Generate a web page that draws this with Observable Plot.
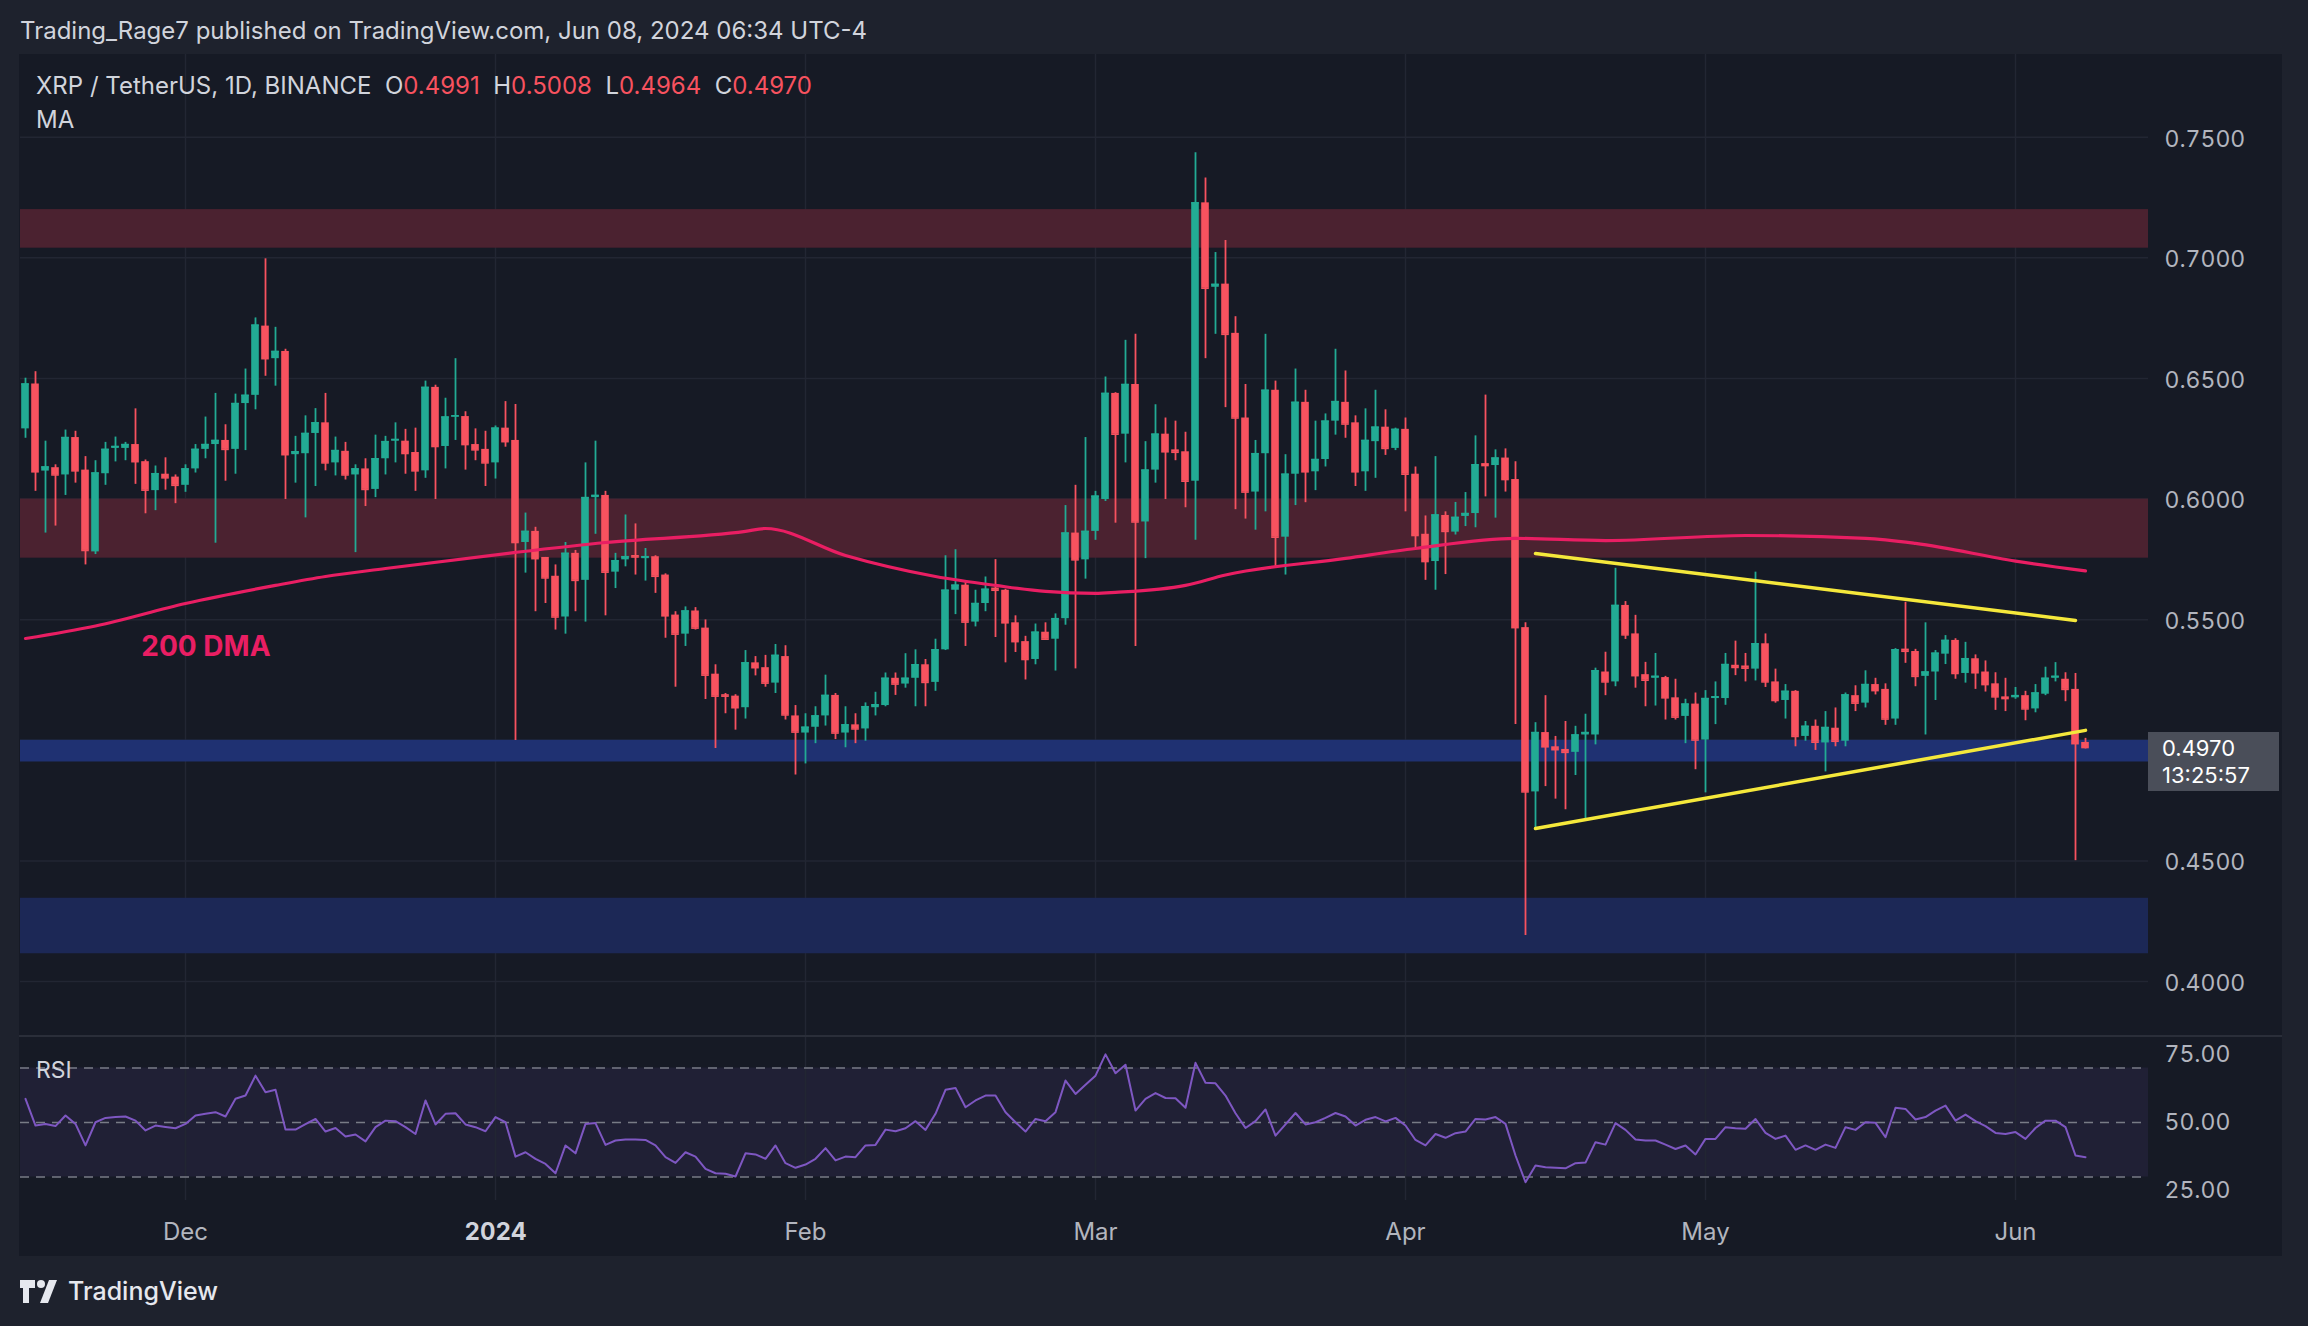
<!DOCTYPE html>
<html><head><meta charset="utf-8">
<script src="https://cdn.jsdelivr.net/npm/d3@7"></script>
<script src="https://cdn.jsdelivr.net/npm/@observablehq/plot@0.6"></script>
<style>
html,body{margin:0;padding:0;background:#1e222d;width:2308px;height:1326px;overflow:hidden;font-family:Inter,"Noto Sans",sans-serif;}
.abs{position:absolute;}
#header{left:20px;top:16px;font-size:24px;color:#d1d4dc;white-space:nowrap;}
#panel{left:19px;top:54px;width:2263px;height:1202px;background:#161a25;}
#sep{left:19px;top:1035px;width:2263px;height:2px;background:#2a2e39;}
#legend{left:36px;top:71px;font-size:24px;color:#d1d4dc;white-space:nowrap;}
#legend .v{color:#f7525f;}
#ma{left:36px;top:105px;font-size:24px;color:#d1d4dc;}
#rsilabel{left:36px;top:1056px;font-size:23px;color:#d1d4dc;}
#pricebox{left:2148px;width:131px;height:59px;background:#4a4e59;color:#fff;font-size:22px;line-height:27px;padding:3px 0 0 14px;box-sizing:border-box;}
#footer{left:20px;top:1276px;display:flex;align-items:center;gap:8px;color:#e6e8ee;font-size:25px;font-weight:500;}
</style></head>
<body>
<div id="header" class="abs">Trading_Rage7 published on TradingView.com, Jun 08, 2024 06:34 UTC-4</div>
<div id="panel" class="abs"></div>
<div id="price" class="abs" style="left:0;top:54px"></div>
<div id="rsi" class="abs" style="left:0;top:1036px"></div>
<div id="sep" class="abs"></div>
<div id="legend" class="abs">XRP / TetherUS, 1D, BINANCE&nbsp; O<span class="v">0.4991</span>&nbsp; H<span class="v">0.5008</span>&nbsp; L<span class="v">0.4964</span>&nbsp; C<span class="v">0.4970</span></div>
<div id="ma" class="abs">MA</div>
<div id="rsilabel" class="abs">RSI</div>
<div id="pricebox" class="abs">0.4970<br>13:25:57</div>
<div id="footer" class="abs"><svg width="40" height="26" viewBox="0 0 40 26"><path d="M0 2h15v8h-6v15h-6v-15h-3z" fill="#e6e8ee"/><circle cx="21" cy="6" r="4" fill="#e6e8ee"/><path d="M29 2h8l-9 23h-8z" fill="#e6e8ee"/></svg><span>TradingView</span></div>
<script>
// ---- data ----
const firstDay = "2023-11-15"; // daily candles, consecutive days
const priceOpen = [
0.6291,0.6477,0.6116,0.6130,0.6100,0.6255,0.6120,0.5781,0.6105,0.6210,
0.6210,0.6226,0.6155,0.6035,0.6103,0.6091,0.6057,0.6125,0.6206,0.6226,
0.6243,0.6206,0.6396,0.6430,0.6717,0.6582,0.6612,0.6184,0.6188,0.6272,
0.6316,0.6150,0.6198,0.6100,0.6125,0.6040,0.6167,0.6240,0.6240,0.6193,
0.6117,0.6463,0.6218,0.6340,0.6342,0.6226,0.6206,0.6150,0.6294,0.6243,
0.5820,0.5866,0.5758,0.5680,0.5511,0.5775,0.5663,0.6006,0.6015,0.5697,
0.5748,0.5766,0.5753,0.5761,0.5685,0.5519,0.5440,0.5536,0.5465,0.5274,
0.5189,0.5183,0.5135,0.5321,0.5301,0.5237,0.5347,0.5101,0.5030,0.5054,
0.5101,0.5186,0.5030,0.5064,0.5047,0.5135,0.5144,0.5257,0.5233,0.5257,
0.5313,0.5240,0.5375,0.5622,0.5643,0.5490,0.5567,0.5631,0.5622,0.5487,
0.5409,0.5335,0.5448,0.5419,0.5504,0.5859,0.5748,0.5866,0.5998,0.6438,
0.6269,0.6475,0.5905,0.6120,0.6269,0.6204,0.6196,0.6074,0.7228,0.6878,
0.6891,0.6687,0.6336,0.6029,0.6188,0.6451,0.5842,0.6103,0.6401,0.6113,
0.6164,0.6323,0.6401,0.6316,0.6113,0.6238,0.6298,0.6210,0.6289,0.6103,
0.5854,0.5741,0.5932,0.5863,0.5928,0.5940,0.6147,0.6139,0.6170,0.6081,
0.5467,0.4786,0.5032,0.4973,0.4962,0.4950,0.5022,0.5022,0.5283,0.5242,
0.5559,0.5441,0.5272,0.5257,0.5260,0.5176,0.5099,0.5150,0.5001,0.5173,
0.5173,0.5311,0.5308,0.5295,0.5400,0.5242,0.5165,0.5203,0.5016,0.5058,
0.4989,0.5050,0.4996,0.5185,0.5154,0.5231,0.5211,0.5088,0.5378,0.5368,
0.5265,0.5283,0.5357,0.5414,0.5277,0.5338,0.5283,0.5234,0.5180,0.5176,
0.5185,0.5130,0.5191,0.5257,0.5253,0.5211,0.4991];
const priceHigh = [
0.6501,0.6528,0.6240,0.6142,0.6286,0.6281,0.6176,0.6159,0.6235,0.6257,
0.6235,0.6374,0.6162,0.6137,0.6171,0.6100,0.6142,0.6226,0.6340,0.6438,
0.6308,0.6435,0.6539,0.6751,0.6996,0.6712,0.6621,0.6260,0.6345,0.6375,
0.6438,0.6257,0.6235,0.6142,0.6167,0.6265,0.6260,0.6316,0.6289,0.6294,
0.6489,0.6472,0.6418,0.6582,0.6362,0.6291,0.6281,0.6303,0.6404,0.6392,
0.5942,0.5883,0.5758,0.5727,0.5820,0.5787,0.6150,0.6240,0.6032,0.5775,
0.5934,0.5897,0.5795,0.5765,0.5690,0.5533,0.5553,0.5550,0.5499,0.5313,
0.5194,0.5189,0.5372,0.5347,0.5352,0.5397,0.5392,0.5144,0.5110,0.5139,
0.5270,0.5194,0.5139,0.5110,0.5155,0.5199,0.5279,0.5279,0.5359,0.5375,
0.5335,0.5419,0.5765,0.5790,0.5656,0.5622,0.5677,0.5749,0.5626,0.5516,
0.5431,0.5482,0.5487,0.5524,0.5973,0.6057,0.6255,0.6032,0.6506,0.6441,
0.6658,0.6683,0.6238,0.6391,0.6336,0.6323,0.6277,0.7436,0.7331,0.7022,
0.7072,0.6756,0.6475,0.6243,0.6683,0.6489,0.6184,0.6539,0.6451,0.6323,
0.6353,0.6621,0.6531,0.6345,0.6374,0.6451,0.6370,0.6294,0.6336,0.6133,
0.5930,0.6176,0.5947,0.5986,0.6027,0.6262,0.6431,0.6204,0.6208,0.6155,
0.5487,0.5073,0.5185,0.5016,0.5078,0.5058,0.5108,0.5299,0.5365,0.5713,
0.5575,0.5518,0.5323,0.5360,0.5265,0.5253,0.5170,0.5196,0.5206,0.5242,
0.5360,0.5411,0.5360,0.5697,0.5441,0.5295,0.5231,0.5206,0.5078,0.5084,
0.5119,0.5134,0.5196,0.5226,0.5288,0.5257,0.5234,0.5380,0.5572,0.5377,
0.5487,0.5372,0.5434,0.5421,0.5406,0.5354,0.5329,0.5280,0.5257,0.5219,
0.5203,0.5231,0.5303,0.5322,0.5280,0.5277,0.5008];
const priceLow = [
0.6252,0.6032,0.5859,0.5888,0.6015,0.6066,0.5727,0.5770,0.6057,0.6154,
0.6159,0.6061,0.5939,0.5952,0.6037,0.5981,0.6028,0.6108,0.6167,0.5817,
0.6074,0.6103,0.6201,0.6370,0.6509,0.6468,0.5998,0.6066,0.5922,0.6052,
0.6117,0.6096,0.6079,0.5778,0.5969,0.6006,0.6100,0.6150,0.6103,0.6032,
0.6086,0.5998,0.6125,0.6243,0.6120,0.6159,0.6052,0.6083,0.6215,0.4999,
0.5693,0.5533,0.5567,0.5457,0.5440,0.5533,0.5490,0.5854,0.5516,0.5629,
0.5719,0.5685,0.5660,0.5609,0.5423,0.5220,0.5389,0.5457,0.5169,0.4966,
0.5110,0.5042,0.5088,0.5267,0.5220,0.5194,0.5084,0.4856,0.4902,0.4986,
0.5059,0.5003,0.4969,0.4986,0.4996,0.5101,0.5139,0.5186,0.5216,0.5139,
0.5139,0.5203,0.5372,0.5521,0.5389,0.5470,0.5533,0.5426,0.5321,0.5364,
0.5250,0.5313,0.5419,0.5287,0.5477,0.5296,0.5668,0.5829,0.5990,0.5900,
0.6150,0.5389,0.5753,0.6066,0.5998,0.6159,0.5964,0.5829,0.6582,0.6683,
0.6379,0.5956,0.5917,0.5871,0.5947,0.5714,0.5685,0.5973,0.5985,0.6035,
0.6133,0.6265,0.6252,0.6052,0.6032,0.6086,0.6181,0.6201,0.5947,0.5795,
0.5663,0.5622,0.5687,0.5851,0.5886,0.5881,0.6009,0.5921,0.6029,0.5065,
0.4191,0.4633,0.4808,0.4756,0.4712,0.4854,0.4667,0.4981,0.5185,0.5222,
0.5418,0.5216,0.5139,0.5142,0.5084,0.5084,0.4986,0.4878,0.4782,0.5065,
0.5145,0.5268,0.5242,0.5246,0.5219,0.5154,0.5088,0.4973,0.4996,0.4958,
0.4869,0.4973,0.4973,0.5119,0.5134,0.5188,0.5062,0.5062,0.5319,0.5222,
0.5022,0.5165,0.5314,0.5253,0.5237,0.5211,0.5200,0.5124,0.5119,0.5170,
0.5081,0.5114,0.5185,0.5242,0.5160,0.4501,0.4964];
const priceClose = [
0.6477,0.6113,0.6133,0.6100,0.6255,0.6117,0.5787,0.6108,0.6206,0.6218,
0.6226,0.6155,0.6037,0.6105,0.6088,0.6057,0.6125,0.6206,0.6226,0.6243,
0.6206,0.6396,0.6430,0.6721,0.6582,0.6612,0.6184,0.6196,0.6272,0.6316,
0.6150,0.6201,0.6100,0.6125,0.6040,0.6167,0.6238,0.6247,0.6189,0.6117,
0.6463,0.6218,0.6340,0.6345,0.6226,0.6204,0.6150,0.6294,0.6238,0.5820,
0.5866,0.5753,0.5673,0.5511,0.5775,0.5663,0.6006,0.6015,0.5697,0.5744,
0.5761,0.5760,0.5761,0.5680,0.5516,0.5440,0.5536,0.5465,0.5270,0.5183,
0.5183,0.5135,0.5321,0.5301,0.5237,0.5352,0.5105,0.5034,0.5054,0.5101,
0.5186,0.5030,0.5064,0.5047,0.5139,0.5147,0.5257,0.5233,0.5257,0.5313,
0.5240,0.5375,0.5622,0.5643,0.5490,0.5567,0.5626,0.5622,0.5487,0.5409,
0.5335,0.5448,0.5419,0.5504,0.5859,0.5748,0.5866,0.6012,0.6438,0.6269,
0.6475,0.5905,0.6120,0.6269,0.6196,0.6194,0.6074,0.7228,0.6874,0.6890,
0.6683,0.6336,0.6029,0.6188,0.6451,0.5842,0.6103,0.6401,0.6113,0.6164,
0.6323,0.6404,0.6311,0.6113,0.6243,0.6298,0.6210,0.6289,0.6103,0.5849,
0.5741,0.5934,0.5866,0.5924,0.5940,0.6142,0.6139,0.6170,0.6081,0.5467,
0.4786,0.5032,0.4973,0.4961,0.4950,0.5022,0.5032,0.5288,0.5242,0.5559,
0.5437,0.5268,0.5249,0.5265,0.5176,0.5096,0.5150,0.5001,0.5173,0.5180,
0.5314,0.5302,0.5299,0.5400,0.5242,0.5165,0.5203,0.5016,0.5058,0.4992,
0.5053,0.4996,0.5188,0.5154,0.5231,0.5206,0.5088,0.5375,0.5369,0.5265,
0.5283,0.5361,0.5414,0.5277,0.5338,0.5280,0.5231,0.5180,0.5173,0.5185,
0.5130,0.5196,0.5257,0.5265,0.5211,0.4986,0.4970];
const rsiValues = [
58.7,48.9,49.5,48.7,52.6,49.5,41.6,50.1,51.7,52.0,
52.2,50.7,47.1,48.9,48.4,47.9,49.5,52.6,53.2,53.8,
52.2,58.7,59.9,67.2,61.1,62.0,47.4,47.4,49.4,51.3,
46.7,48.0,44.9,45.6,43.1,48.3,50.7,50.5,48.3,45.8,
58.1,49.3,53.2,53.4,49.3,48.3,46.8,52.0,50.1,37.5,
39.1,36.7,34.8,31.4,41.6,38.7,49.5,49.8,41.8,43.4,
43.8,43.8,43.6,41.6,37.3,35.2,39.1,37.5,33.0,31.4,
31.2,30.2,38.7,38.3,36.7,41.6,35.1,33.4,34.6,36.7,
40.6,36.1,37.5,37.3,41.6,41.8,47.4,46.8,47.9,50.5,
47.3,53.2,62.0,62.7,55.6,58.1,59.9,59.9,53.8,50.1,
46.7,51.3,50.5,53.8,65.4,60.5,63.9,67.2,75.0,68.1,
71.2,54.4,58.7,60.8,59.0,58.9,55.4,71.9,64.6,64.4,
59.9,53.4,48.0,50.5,54.8,45.2,49.3,53.5,49.3,50.1,
51.7,53.5,52.2,48.9,51.0,52.0,50.4,51.7,48.9,43.6,
41.6,45.8,44.4,46.1,46.7,51.3,51.1,52.0,49.5,37.9,
28.1,34.2,33.6,33.4,33.2,35.1,35.3,42.8,41.9,49.8,
47.3,43.8,43.4,43.4,41.9,40.3,41.6,38.3,44.0,44.0,
48.3,47.9,47.7,51.3,46.2,44.0,45.2,40.0,41.6,40.0,
41.9,40.7,48.3,47.3,50.1,49.9,44.6,55.4,55.0,51.1,
52.0,54.4,56.2,50.7,52.9,50.5,48.7,46.2,45.8,46.5,
44.0,48.0,50.7,50.7,48.3,37.9,37.3];
// 200-day moving average, read at sample dates
const maDates = ["2023-11-15","2023-11-22","2023-12-01","2023-12-10","2023-12-15","2023-12-21","2024-01-03","2024-01-12","2024-01-26","2024-01-28","2024-02-05","2024-02-14","2024-02-20","2024-02-25","2024-03-01","2024-03-03","2024-03-10","2024-03-14","2024-03-26","2024-04-02","2024-04-12","2024-04-21","2024-05-05","2024-05-17","2024-05-22","2024-06-01","2024-06-08"];
const maValues = [0.5422,0.5474,0.5567,0.5642,0.5679,0.5712,0.5779,0.5820,0.5866,0.5878,0.5766,0.5679,0.5642,0.5617,0.5609,0.5613,0.5642,0.5685,0.5754,0.5795,0.5837,0.5828,0.5849,0.5837,0.5816,0.5743,0.5702];
// triangle trendlines
const upperLineDates = ["2024-04-14","2024-06-07"];
const upperLineValues = [0.5774,0.5497];
const lowerLineDates = ["2024-04-14","2024-06-08"];
const lowerLineValues = [0.4634,0.5041];
// horizontal zones
const zoneLow  = [0.704, 0.5755, 0.491, 0.4115];
const zoneHigh = [0.720, 0.600, 0.500, 0.4345];
const zoneColor = ["#4b2230", "#4b2230", "#1f3172", "#1c2856"];
// axes
const priceTicks = [0.40,0.45,0.50,0.55,0.60,0.65,0.70,0.75];
const priceTickLabels = [0.40,0.45,0.55,0.60,0.65,0.70,0.75];
const rsiTicks = [25,50,75];
const rsiLevels = [70,50,30];
const monthTicks = ["2023-12-01","2024-02-01","2024-03-01","2024-04-01","2024-05-01","2024-06-01"];
const monthLabels = ["Dec","Feb","Mar","Apr","May","Jun"];
const yearTick = ["2024-01-01"];
const yearLabel = ["2024"];
const lastPrice = 0.4970;

// ---- build ----
const DAY = 864e5;
const t0 = Date.parse(firstDay + "T00:00:00Z");
const candles = priceOpen.map((o,i) => ({
  date: new Date(t0 + i*DAY), open:o, high:priceHigh[i], low:priceLow[i], close:priceClose[i]
}));
const UP = "#22ab94", DOWN = "#f7525f";
const col = d => d.close >= d.open ? UP : DOWN;
const rsi = rsiValues.map((v,i) => ({date: new Date(t0 + i*DAY), v}));
const ma = maDates.map((d,i) => ({date: new Date(d+"T00:00:00Z"), v: maValues[i]}));
const upper = upperLineDates.map((d,i)=>({date:new Date(d+"T00:00:00Z"), v: upperLineValues[i]}));
const lower = lowerLineDates.map((d,i)=>({date:new Date(d+"T00:00:00Z"), v: lowerLineValues[i]}));
const zones = zoneLow.map((l,i)=>({lo:l, hi:zoneHigh[i], c:zoneColor[i]}));
const xDomain = [new Date("2023-11-14T12:00:00Z"), new Date("2024-06-14T07:12:00Z")];
const mDates = monthTicks.map(d=>new Date(d+"T00:00:00Z"));
const yDates = yearTick.map(d=>new Date(d+"T00:00:00Z"));
const allMonths = [...mDates, ...yDates];
const W = 2282, ML = 20, MR = 134;
const half = 0.38*DAY;
const st = {background:"transparent", color:"#b2b5be", fontFamily:"Inter, sans-serif", fontSize:"23px", overflow:"visible"};

const pricePlot = Plot.plot({
  width: W, height: 982, marginLeft: ML, marginRight: MR, marginTop: 0, marginBottom: 0,
  style: st,
  x: {type:"utc", domain: xDomain, axis: null, label: null},
  y: {domain: [0.3772, 0.7843], axis: null, label: null},
  marks: [
    Plot.gridX(allMonths, {stroke:"#222633", strokeOpacity:1, strokeWidth:1.5}),
    Plot.gridY(priceTicks, {stroke:"#222633", strokeOpacity:1, strokeWidth:1.5}),
    Plot.rect(zones, {y1:"lo", y2:"hi", fill: d=>d.c}),
    Plot.ruleX(candles, {x:"date", y1:"low", y2:"high", stroke: col, strokeWidth: 1.8}),
    Plot.rect(candles, {x1: d=>new Date(+d.date - half), x2: d=>new Date(+d.date + half), y1: d=>Math.min(d.open,d.close), y2: d=>Math.max(d.open,d.close), fill: col}),
    Plot.ruleY(candles, {x1: d=>new Date(+d.date - half), x2: d=>new Date(+d.date + half), y: "close", stroke: col, strokeWidth: 1.6}),
    Plot.line(ma, {x:"date", y:"v", stroke:"#e91e63", strokeWidth:3.2, curve:"monotone-x"}),
    Plot.line(upper, {x:"date", y:"v", stroke:"#f5e83b", strokeWidth:3.5, strokeLinecap:"round"}),
    Plot.line(lower, {x:"date", y:"v", stroke:"#f5e83b", strokeWidth:3.5, strokeLinecap:"round"}),
    Plot.text(["200 DMA"], {x: ()=>new Date("2023-11-26T14:00:00Z"), y: ()=>0.5385, text: d=>d, textAnchor:"start", fill:"#e91e63", fontSize:28, fontWeight:700}),
    Plot.axisY(priceTickLabels, {anchor:"right", label:null, tickSize:0, tickPadding:16, dy:2, tickFormat: d3.format(".4f"), fontSize:23, fill:"#b2b5be"})
  ]
});
document.getElementById("price").appendChild(pricePlot);
const ys = pricePlot.scale("y");
const boxY = 54 + ys.apply(lastPrice);
document.getElementById("pricebox").style.top = (boxY - 15) + "px";

const rsiPlot = Plot.plot({
  width: W, height: 220, marginLeft: ML, marginRight: MR, marginTop: 0, marginBottom: 56,
  style: st,
  x: {type:"utc", domain: xDomain, axis: null, label: null},
  y: {domain: [21.4, 81.56], axis: null, label: null},
  marks: [
    Plot.rect([0], {y1: ()=>30, y2: ()=>70, fill:"#7e57c2", fillOpacity:0.1}),
    Plot.gridX(allMonths, {stroke:"#222633", strokeOpacity:1, strokeWidth:1.5, y1: 21.4, y2: 81.56}),
    Plot.ruleY(rsiLevels, {stroke:"#787b86", strokeDasharray:"9,7", strokeWidth:1.6}),
    Plot.line(rsi, {x:"date", y:"v", stroke:"#7e57c2", strokeWidth:2}),
    Plot.axisY(rsiTicks, {anchor:"right", label:null, tickSize:0, tickPadding:16, tickFormat: d3.format(".2f"), fontSize:23, fill:"#b2b5be"}),
    Plot.axisX(mDates, {anchor:"bottom", label:null, tickSize:0, tickPadding:22, tickFormat: (d,i)=>monthLabels[i], fontSize:24, fill:"#b2b5be"}),
    Plot.axisX(yDates, {anchor:"bottom", label:null, tickSize:0, tickPadding:22, tickFormat: (d,i)=>yearLabel[i], fontSize:24, fontWeight:700, fill:"#d1d4dc"})
  ]
});
document.getElementById("rsi").appendChild(rsiPlot);
</script>
</body></html>
